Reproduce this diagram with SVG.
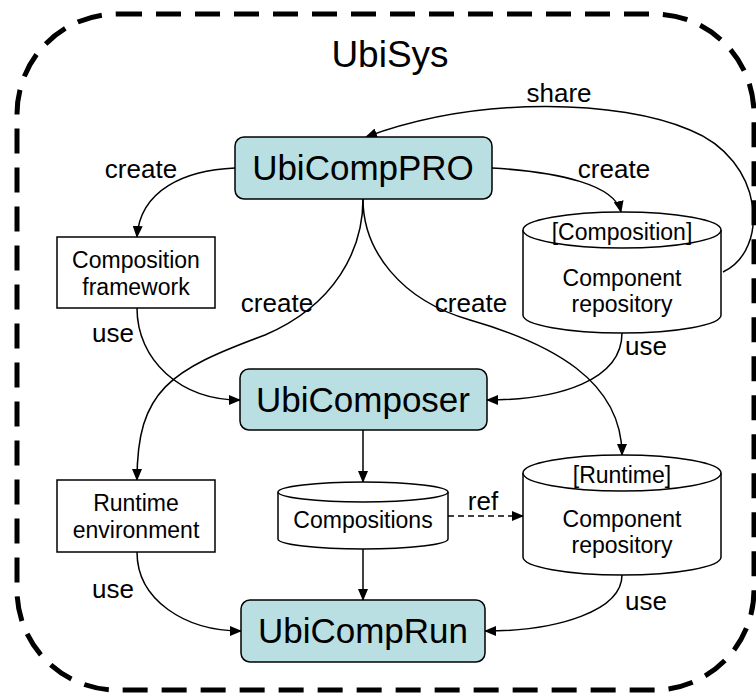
<svg xmlns="http://www.w3.org/2000/svg" width="756" height="696" viewBox="0 0 756 696">
<defs>
<style>
text{font-family:"Liberation Sans",Arial,sans-serif;fill:#000;text-anchor:middle}
.big{font-size:35px}
.mid{font-size:23px}
.lbl{font-size:26px}
.box{fill:#b9dfe3;stroke:#000;stroke-width:1.5}
.wbox{fill:#fff;stroke:#000;stroke-width:1.5}
.cn{fill:none;stroke:#000;stroke-width:1.5;marker-end:url(#ah)}
</style>
<marker id="ah" markerWidth="12" markerHeight="10" refX="11" refY="5" orient="auto" markerUnits="userSpaceOnUse">
<path d="M0,0 L12,5 L0,10 Z" fill="#000"/>
</marker>
</defs>
<rect width="756" height="696" fill="#fff"/>
<g id="ubisys">
<rect x="17" y="14" width="737" height="676" rx="100" ry="100" fill="none" stroke="#000" stroke-width="5" stroke-dasharray="25,14"/>
<text x="390" y="67" style="font-size:37px">UbiSys</text>
</g>
<g id="connectors">
<path class="cn" d="M723,272 C770,250 765,160 690,130 C620,100 480,95 366,137"/>
<path class="cn" d="M235,168 C185,170 140,190 137,237"/>
<path class="cn" d="M492,168 C560,172 615,185 621,212"/>
<path class="cn" d="M363,199 C363,250 335,305 265,335 C170,370 137,390 137,480"/>
<path class="cn" d="M363,199 C363,250 400,300 470,320 C550,343 622,380 622,455"/>
<path class="cn" d="M137,308 C137,360 180,400 240,400"/>
<path class="cn" d="M622,333 C622,380 560,400 487,400"/>
<path class="cn" d="M363,430 L363,482"/>
<path class="cn" d="M363,549 L363,600"/>
<path class="cn" d="M137,552 C137,600 185,631 241,631"/>
<path class="cn" d="M622,575 C622,610 560,631 485,631"/>
<path class="cn" d="M448,516 L523,516" stroke-dasharray="6,4"/>
<text class="lbl" x="559" y="102">share</text>
<text class="lbl" x="141" y="178">create</text>
<text class="lbl" x="614" y="178">create</text>
<text class="lbl" x="277" y="312">create</text>
<text class="lbl" x="471" y="312">create</text>
<text class="lbl" x="113" y="342">use</text>
<text class="lbl" x="646" y="355">use</text>
<text class="lbl" x="113" y="598">use</text>
<text class="lbl" x="646" y="610">use</text>
<text class="lbl" x="483" y="510">ref</text>
</g>
<g id="ubicomppro">
<rect class="box" x="235" y="137" width="257" height="62" rx="9"/>
<text class="big" x="363" y="180">UbiCompPRO</text>
</g>
<g id="composition-framework">
<rect class="wbox" x="57" y="237" width="158" height="71"/>
<text class="mid" x="136" y="268">Composition</text>
<text class="mid" x="136" y="295">framework</text>
</g>
<g id="composition-repository">
<path class="wbox" d="M523,230 L523,315 A99,18 0 0 0 721,315 L721,230"/>
<ellipse class="wbox" cx="622" cy="230" rx="99" ry="18"/>
<text class="mid" x="622" y="240">[Composition]</text>
<text class="mid" x="622" y="286">Component</text>
<text class="mid" x="622" y="312">repository</text>
</g>
<g id="ubicomposer">
<rect class="box" x="240" y="369" width="247" height="61" rx="9"/>
<text class="big" x="363" y="412">UbiComposer</text>
</g>
<g id="runtime-environment">
<rect class="wbox" x="57" y="480" width="158" height="72"/>
<text class="mid" x="136" y="511">Runtime</text>
<text class="mid" x="136" y="538">environment</text>
</g>
<g id="compositions">
<path class="wbox" d="M278,492 L278,539 A85,10 0 0 0 448,539 L448,492"/>
<ellipse class="wbox" cx="363" cy="492" rx="85" ry="10"/>
<text class="mid" x="363" y="528">Compositions</text>
</g>
<g id="runtime-repository">
<path class="wbox" d="M523,473 L523,557 A99,18 0 0 0 721,557 L721,473"/>
<ellipse class="wbox" cx="622" cy="473" rx="99" ry="18"/>
<text class="mid" x="622" y="483">[Runtime]</text>
<text class="mid" x="622" y="527">Component</text>
<text class="mid" x="622" y="553">repository</text>
</g>
<g id="ubicomprun">
<rect class="box" x="241" y="600" width="244" height="62" rx="9"/>
<text class="big" x="363" y="643">UbiCompRun</text>
</g>
</svg>
